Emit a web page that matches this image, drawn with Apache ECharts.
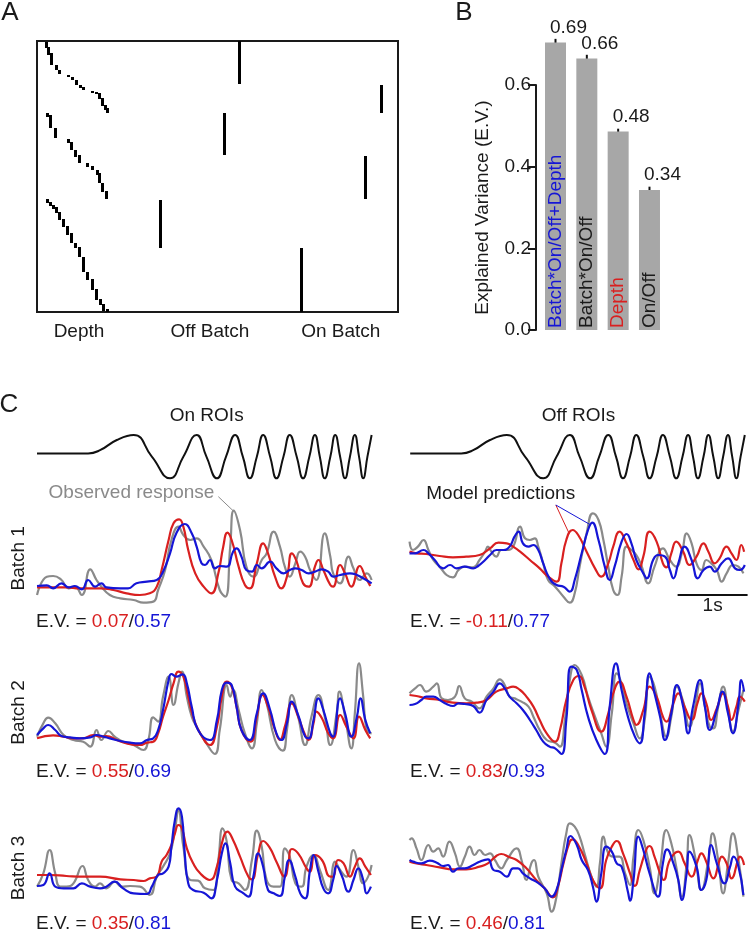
<!DOCTYPE html>
<html>
<head>
<meta charset="utf-8">
<script src="https://cdn.jsdelivr.net/npm/echarts@6/dist/echarts.min.js"></script>
<style>html,body{margin:0;padding:0;background:#fff}#c{width:748px;height:932px}</style>
</head>
<body>
<div id="c"></div>
<script>
// ---------------- DATA ----------------
// Panel A: design matrix blocks [featurePos, roiStart, roiEnd]
const depthBlocks = [
  [9,1,7],[11,6,14],[14,12,24],[19,24,29],[22,29,33],[31,34,36],[35,36,39],[39,39,44],[43,44,47],[46,46,49],[55,50,51.5],[59,51,53],[62,52,58],[65,57,65],[68,64,69],[70,67,72],
  [10,72,76],[13,74,87],[18,87,97],[31,98,102],[34,101,109],[38,109,116],[42,114,122],[50,122,126],[55,125,129],[60,129,134],[62,132,142],[65,142,151],[69,150,158],
  [10,158,162],[13,161,165],[16,164,168],[19,166,172],[22,171,179],[26,178,186],[30,185,194],[34,192,202],[38,202,207],[42,206,216],[46,216,231],[50,231,239],[55,238,249],[59,248,259],[63,258,264],[66,263,270],[70,268,271]
];
const offBatchBlocks = [[203,0,43],[188,72,114],[124,159,207]];
const onBatchBlocks = [[345,44,72],[329,115,158],[265,207,271]];
const matrixLabels = ['Depth', 'Off Batch', 'On Batch'];

// Panel B
const modelNames = ['Batch*On/Off+Depth', 'Batch*On/Off', 'Depth', 'On/Off'];
const evValues = [0.704, 0.665, 0.486, 0.343];
const evErrors = [0.009, 0.009, 0.007, 0.008];
const evLabels = ['0.69', '0.66', '0.48', '0.34'];
const evTicks = [0, 0.2, 0.4, 0.6];

// Panel C: stimulus (time s, intensity)
const stimT = [0.01,0.74,0.91,1.15,1.39,1.65,1.91,2.10,2.29,2.43,2.58,2.71,2.84,2.95,3.05,3.15,3.24,3.34,3.43,3.53,3.62,3.72,3.81,3.90,3.98,4.05,4.12,4.20,4.27,4.34,4.41,4.48,4.55,4.61,4.67,4.73,4.79];
const stimV = [0.15,0.15,0.30,0.77,1,0,-1,0,1,0,-1,0,1,0,-1,0,1,0,-1,0,1,0,-1,0,1,0,-1,0,1,0,-1,0,1,0,-1,0,1];

// Responses [time s, response]
const r1OnGrey = [[0.01,0.05],[0.15,0.60],[0.24,0.62],[0.36,0.50],[0.46,0.25],[0.55,0.30],[0.65,0.05],[0.77,0.82],[0.86,0.50],[0.93,0.30],[1.05,0.05],[1.20,-0.05],[1.39,-0.10],[1.53,-0.18],[1.67,-0.15],[1.74,0.20],[1.84,0.80],[1.93,1.70],[2.03,2.10],[2.10,1.85],[2.20,1.70],[2.29,1.75],[2.39,1.50],[2.50,1.10],[2.62,0.20],[2.70,0.00],[2.77,1.50],[2.82,2.58],[2.91,2.00],[3.00,0.90],[3.10,0.60],[3.22,1.10],[3.29,1.30],[3.39,1.95],[3.48,1.50],[3.55,0.90],[3.62,0.60],[3.70,1.00],[3.77,1.35],[3.84,1.20],[3.91,0.80],[4.00,0.50],[4.12,1.90],[4.20,1.20],[4.24,0.70],[4.34,0.40],[4.46,1.20],[4.53,0.85],[4.62,0.50],[4.72,0.70],[4.79,0.50]];
const r1OnRed = [[0.01,0.28],[0.43,0.28],[0.62,0.25],[0.91,0.25],[1.10,0.20],[1.29,0.10],[1.48,0.05],[1.62,0.10],[1.72,0.30],[1.79,0.80],[1.89,1.70],[1.96,2.20],[2.04,2.32],[2.10,2.10],[2.17,1.40],[2.27,0.70],[2.39,0.30],[2.50,0.10],[2.60,0.70],[2.67,1.50],[2.73,1.92],[2.79,1.70],[2.89,0.90],[2.98,0.35],[3.05,0.25],[3.15,1.00],[3.24,1.60],[3.31,1.30],[3.41,0.60],[3.50,0.25],[3.58,0.60],[3.65,1.30],[3.72,1.05],[3.81,0.40],[3.89,0.30],[3.98,0.90],[4.03,1.10],[4.10,0.80],[4.20,0.35],[4.24,0.30],[4.34,0.95],[4.41,0.70],[4.50,0.30],[4.62,0.92],[4.70,0.60],[4.77,0.32]];
const r1OnBlue = [[0.01,0.32],[0.15,0.34],[0.24,0.25],[0.36,0.40],[0.46,0.28],[0.55,0.32],[0.65,0.22],[0.74,0.50],[0.84,0.30],[0.93,0.40],[1.00,0.28],[1.20,0.25],[1.31,0.25],[1.43,0.40],[1.58,0.45],[1.72,0.50],[1.81,0.75],[1.91,1.30],[2.00,1.90],[2.12,2.18],[2.22,1.90],[2.29,1.50],[2.36,1.00],[2.41,0.95],[2.48,1.10],[2.55,0.85],[2.62,0.92],[2.72,0.90],[2.81,1.35],[2.86,1.45],[2.93,1.20],[3.00,0.80],[3.08,0.75],[3.15,0.95],[3.22,0.85],[3.34,1.05],[3.43,0.85],[3.53,0.70],[3.62,0.80],[3.70,0.85],[3.79,0.80],[3.89,0.70],[3.98,0.75],[4.08,0.82],[4.17,0.75],[4.24,0.60],[4.34,0.65],[4.48,0.70],[4.58,0.65],[4.67,0.55],[4.79,0.40]];

const r1OffGrey = [[0.00,1.65],[0.05,1.40],[0.12,1.50],[0.20,1.70],[0.27,1.40],[0.34,1.10],[0.43,0.90],[0.53,0.65],[0.62,0.58],[0.70,0.80],[0.79,0.90],[0.91,0.88],[1.00,1.10],[1.08,1.35],[1.12,1.50],[1.17,1.35],[1.24,1.20],[1.31,1.40],[1.39,1.40],[1.48,1.50],[1.58,2.10],[1.65,1.75],[1.72,1.70],[1.79,1.75],[1.84,1.50],[1.91,1.00],[1.98,0.50],[2.08,0.30],[2.20,0.00],[2.29,-0.18],[2.36,0.10],[2.43,0.90],[2.53,1.90],[2.62,2.50],[2.70,2.30],[2.77,1.70],[2.84,0.90],[2.91,0.20],[2.97,0.05],[3.03,0.60],[3.10,1.50],[3.17,1.40],[3.24,1.25],[3.31,0.95],[3.41,0.40],[3.50,0.90],[3.62,1.45],[3.72,1.10],[3.81,0.90],[3.89,1.30],[3.96,1.90],[4.03,1.60],[4.10,1.00],[4.17,0.80],[4.24,1.10],[4.31,1.00],[4.39,0.80],[4.46,0.45],[4.53,0.70],[4.62,0.95],[4.70,0.90],[4.77,0.70]];
const r1OffRed = [[0.00,1.35],[0.10,1.30],[0.24,1.28],[0.43,1.22],[0.62,1.18],[0.81,1.20],[1.00,1.25],[1.15,1.45],[1.27,1.62],[1.39,1.60],[1.48,1.50],[1.58,1.35],[1.72,1.10],[1.86,0.85],[1.98,0.60],[2.10,0.45],[2.17,1.00],[2.24,1.70],[2.33,2.00],[2.41,1.85],[2.53,1.35],[2.65,0.85],[2.74,0.60],[2.84,1.00],[2.91,1.50],[3.00,1.95],[3.10,1.60],[3.20,1.10],[3.27,0.82],[3.34,1.20],[3.43,1.95],[3.53,1.65],[3.62,1.00],[3.67,0.88],[3.74,1.30],[3.81,1.65],[3.91,1.35],[4.00,0.95],[4.10,1.20],[4.20,1.60],[4.27,1.35],[4.36,1.00],[4.43,1.15],[4.53,1.50],[4.60,1.30],[4.67,1.10],[4.74,1.55],[4.78,1.35]];
const r1OffBlue = [[0.00,1.30],[0.08,1.30],[0.20,1.40],[0.27,1.30],[0.36,1.10],[0.48,0.85],[0.58,0.95],[0.67,0.85],[0.79,0.90],[0.91,0.85],[0.98,0.92],[1.08,1.10],[1.15,1.25],[1.24,1.40],[1.34,1.40],[1.43,1.50],[1.50,1.80],[1.56,1.95],[1.62,1.60],[1.70,1.50],[1.77,1.55],[1.84,1.40],[1.91,1.00],[2.00,0.55],[2.10,0.35],[2.20,0.30],[2.29,0.15],[2.36,0.50],[2.46,1.30],[2.55,2.00],[2.61,2.22],[2.70,1.70],[2.79,0.90],[2.86,0.50],[2.93,0.90],[3.03,1.65],[3.10,1.88],[3.17,1.60],[3.24,1.10],[3.34,0.70],[3.39,0.55],[3.48,1.10],[3.55,1.25],[3.65,1.20],[3.72,0.80],[3.77,0.55],[3.84,1.00],[3.93,1.50],[4.03,1.10],[4.12,0.55],[4.20,0.80],[4.29,0.90],[4.36,0.75],[4.46,1.00],[4.55,1.15],[4.65,0.85],[4.72,0.80],[4.79,0.95]];

const r2OnGrey = [[0.01,0.30],[0.10,0.70],[0.17,0.87],[0.27,0.70],[0.39,0.35],[0.53,0.20],[0.67,0.15],[0.77,0.00],[0.86,0.50],[0.93,0.20],[1.03,0.47],[1.12,0.30],[1.24,0.15],[1.39,0.05],[1.53,-0.10],[1.60,0.20],[1.67,0.88],[1.74,0.75],[1.81,1.50],[1.89,2.10],[1.96,1.25],[2.03,1.90],[2.08,2.25],[2.15,1.50],[2.22,0.90],[2.29,0.60],[2.43,0.10],[2.55,-0.22],[2.62,0.50],[2.72,1.85],[2.77,1.50],[2.81,1.70],[2.89,1.10],[2.98,0.40],[3.08,-0.05],[3.15,0.70],[3.22,1.70],[3.29,1.30],[3.41,0.20],[3.52,-0.12],[3.58,0.50],[3.65,1.55],[3.74,0.90],[3.84,0.05],[3.93,0.90],[4.03,1.55],[4.12,0.90],[4.20,0.05],[4.29,1.00],[4.33,1.65],[4.41,0.90],[4.50,-0.05],[4.55,1.00],[4.61,2.50],[4.67,1.50],[4.72,0.50],[4.79,0.40]];
const r2OnRed = [[0.01,0.25],[0.24,0.34],[0.39,0.30],[0.53,0.25],[0.67,0.25],[0.81,0.35],[0.91,0.30],[1.00,0.32],[1.15,0.20],[1.29,0.10],[1.48,0.05],[1.58,0.12],[1.67,0.15],[1.74,0.40],[1.81,0.90],[1.89,1.40],[1.96,1.90],[2.03,2.25],[2.10,2.10],[2.17,1.50],[2.24,0.90],[2.34,0.40],[2.48,0.05],[2.58,0.60],[2.65,1.50],[2.72,1.95],[2.79,1.80],[2.86,1.20],[2.93,0.50],[3.06,0.15],[3.15,0.90],[3.23,1.55],[3.31,1.20],[3.41,0.50],[3.48,0.20],[3.55,0.60],[3.65,1.30],[3.74,0.90],[3.84,0.35],[3.89,0.20],[3.96,0.70],[4.00,1.05],[4.08,0.85],[4.17,0.40],[4.24,0.25],[4.34,0.95],[4.43,0.60],[4.53,0.25],[4.61,0.90],[4.70,0.50],[4.77,0.25]];
const r2OnBlue = [[0.01,0.35],[0.10,0.55],[0.17,0.65],[0.27,0.50],[0.36,0.32],[0.48,0.28],[0.62,0.25],[0.77,0.28],[0.86,0.35],[0.96,0.30],[1.05,0.25],[1.20,0.17],[1.34,0.12],[1.48,0.10],[1.58,0.20],[1.67,0.25],[1.74,0.50],[1.81,1.10],[1.89,2.00],[1.93,2.18],[2.00,2.10],[2.09,2.17],[2.15,1.90],[2.22,1.20],[2.31,0.50],[2.48,0.20],[2.58,0.80],[2.65,1.70],[2.72,1.92],[2.79,1.85],[2.86,1.20],[2.93,0.50],[3.05,0.20],[3.15,1.00],[3.24,1.60],[3.34,1.10],[3.43,0.40],[3.50,0.20],[3.58,0.70],[3.65,1.35],[3.74,0.95],[3.84,0.30],[3.89,0.25],[3.96,0.80],[4.03,1.45],[4.10,1.10],[4.20,0.40],[4.24,0.30],[4.34,1.45],[4.41,1.00],[4.50,0.30],[4.58,0.90],[4.63,1.45],[4.70,0.80],[4.77,0.40]];

const r2OffGrey = [[0.00,1.60],[0.08,1.75],[0.15,1.85],[0.24,1.65],[0.34,1.80],[0.39,1.90],[0.46,1.45],[0.55,1.40],[0.65,1.50],[0.71,1.82],[0.79,1.45],[0.89,1.35],[1.00,1.15],[1.10,1.50],[1.20,1.75],[1.29,2.02],[1.36,1.85],[1.43,1.50],[1.50,1.45],[1.60,1.35],[1.70,1.20],[1.77,0.90],[1.86,0.50],[1.96,0.20],[2.08,0.12],[2.15,0.00],[2.22,0.80],[2.29,2.00],[2.36,2.45],[2.46,2.15],[2.55,1.50],[2.65,0.90],[2.74,0.40],[2.81,0.00],[2.89,1.00],[2.96,2.20],[3.03,1.90],[3.10,1.30],[3.20,0.70],[3.29,0.25],[3.36,0.80],[3.43,2.10],[3.50,1.80],[3.58,1.00],[3.67,0.30],[3.74,0.90],[3.82,1.80],[3.91,1.35],[4.00,0.60],[4.08,1.20],[4.15,1.90],[4.22,1.20],[4.29,0.60],[4.34,0.55],[4.41,1.20],[4.48,1.80],[4.55,1.10],[4.62,0.45],[4.70,1.10],[4.77,1.70]];
const r2OffRed = [[0.00,1.55],[0.10,1.52],[0.24,1.45],[0.43,1.40],[0.62,1.32],[0.81,1.30],[0.96,1.32],[1.10,1.40],[1.24,1.65],[1.39,1.75],[1.48,1.80],[1.58,1.70],[1.67,1.50],[1.77,1.20],[1.86,0.80],[1.96,0.40],[2.08,0.15],[2.15,0.50],[2.24,1.40],[2.34,2.00],[2.42,2.12],[2.50,1.80],[2.60,1.10],[2.74,0.45],[2.84,1.00],[2.91,1.60],[3.00,1.95],[3.10,1.50],[3.20,0.80],[3.24,0.65],[3.34,1.10],[3.43,1.80],[3.53,1.50],[3.62,0.90],[3.67,0.75],[3.77,1.30],[3.84,1.60],[3.93,1.20],[4.03,0.80],[4.12,1.35],[4.17,1.60],[4.24,1.30],[4.31,0.80],[4.39,1.15],[4.48,1.60],[4.55,1.20],[4.60,0.80],[4.67,1.20],[4.72,1.50],[4.79,1.35]];
const r2OffBlue = [[0.00,1.25],[0.08,1.28],[0.17,1.40],[0.24,1.50],[0.34,1.50],[0.43,1.40],[0.53,1.28],[0.62,1.22],[0.70,1.30],[0.79,1.28],[0.91,1.22],[1.00,1.02],[1.10,1.40],[1.20,1.65],[1.29,1.90],[1.36,1.75],[1.43,1.50],[1.53,1.30],[1.62,1.10],[1.72,0.80],[1.81,0.50],[1.91,0.15],[2.00,0.00],[2.08,-0.05],[2.17,-0.22],[2.24,0.80],[2.31,2.40],[2.39,2.30],[2.46,1.70],[2.55,0.90],[2.67,0.20],[2.79,-0.22],[2.86,1.20],[2.95,2.50],[3.03,1.70],[3.12,0.90],[3.22,0.30],[3.29,0.10],[3.36,1.00],[3.43,2.20],[3.50,1.60],[3.58,0.90],[3.65,0.20],[3.74,1.00],[3.82,1.85],[3.91,1.20],[3.98,0.40],[4.05,1.20],[4.15,2.00],[4.22,1.20],[4.29,0.50],[4.39,1.10],[4.47,1.65],[4.55,1.00],[4.62,0.40],[4.70,1.30],[4.74,2.00],[4.78,1.65]];

const r3OnGrey = [[0.01,0.30],[0.10,0.70],[0.19,1.40],[0.27,0.70],[0.34,0.30],[0.43,0.30],[0.53,0.40],[0.66,0.92],[0.74,0.50],[0.84,0.30],[0.91,0.40],[1.00,0.25],[1.12,0.45],[1.22,0.30],[1.34,0.32],[1.48,0.30],[1.62,0.05],[1.72,0.60],[1.81,0.90],[1.91,1.30],[1.98,2.00],[2.03,2.60],[2.10,1.50],[2.20,0.50],[2.31,0.48],[2.41,0.25],[2.53,0.20],[2.60,1.10],[2.66,2.05],[2.72,1.65],[2.79,0.50],[2.89,0.40],[2.98,0.20],[3.08,1.10],[3.15,1.98],[3.22,1.50],[3.29,0.50],[3.39,0.30],[3.48,0.30],[3.55,1.45],[3.62,1.20],[3.70,0.40],[3.79,0.30],[3.86,0.90],[3.96,1.25],[4.05,0.80],[4.17,0.20],[4.27,1.05],[4.34,0.80],[4.43,0.60],[4.53,1.40],[4.60,0.90],[4.67,0.40],[4.74,0.60],[4.79,0.95]];
const r3OnRed = [[0.01,0.65],[0.20,0.65],[0.43,0.62],[0.67,0.60],[0.91,0.60],[1.20,0.52],[1.39,0.50],[1.53,0.47],[1.62,0.55],[1.72,0.60],[1.79,1.05],[1.86,1.25],[1.93,1.55],[1.98,1.90],[2.03,2.15],[2.08,2.05],[2.15,1.45],[2.24,1.00],[2.34,0.70],[2.48,0.50],[2.58,0.90],[2.65,1.60],[2.73,1.95],[2.81,1.70],[2.91,1.20],[3.03,0.60],[3.08,0.52],[3.17,1.30],[3.24,1.67],[3.34,1.45],[3.43,1.05],[3.55,0.60],[3.60,1.00],[3.65,1.43],[3.74,1.30],[3.86,0.85],[3.91,0.75],[3.98,1.25],[4.08,1.10],[4.20,0.60],[4.24,0.60],[4.31,1.10],[4.39,1.00],[4.48,0.60],[4.55,0.90],[4.62,1.15],[4.70,0.90],[4.78,0.65]];
const r3OnBlue = [[0.01,0.32],[0.10,0.35],[0.19,0.70],[0.27,0.30],[0.39,0.25],[0.53,0.25],[0.65,0.40],[0.77,0.30],[0.91,0.25],[1.00,0.30],[1.12,0.45],[1.24,0.25],[1.39,0.10],[1.58,0.08],[1.65,0.30],[1.74,0.65],[1.81,0.70],[1.89,0.90],[1.93,1.50],[1.98,2.30],[2.03,2.65],[2.08,2.40],[2.12,1.30],[2.17,0.40],[2.24,0.20],[2.39,0.12],[2.50,-0.05],[2.58,0.50],[2.65,1.30],[2.70,1.60],[2.77,1.00],[2.84,0.30],[2.96,0.10],[3.03,0.00],[3.10,0.60],[3.17,1.30],[3.24,0.90],[3.31,0.20],[3.39,0.10],[3.48,0.02],[3.55,0.60],[3.61,1.10],[3.70,0.60],[3.77,0.10],[3.84,-0.05],[3.91,0.80],[3.96,1.25],[4.03,0.75],[4.10,0.25],[4.17,0.10],[4.24,0.50],[4.29,0.92],[4.36,0.65],[4.46,0.15],[4.53,0.50],[4.60,0.85],[4.67,0.50],[4.72,0.10],[4.78,0.30]];

const r3OffGrey = [[0.00,1.70],[0.03,1.75],[0.10,1.45],[0.17,1.10],[0.27,1.55],[0.34,1.35],[0.41,1.45],[0.48,1.20],[0.57,1.65],[0.65,1.30],[0.72,0.90],[0.79,1.20],[0.86,1.50],[0.93,1.25],[1.00,1.40],[1.08,1.25],[1.15,1.30],[1.22,1.10],[1.31,0.85],[1.39,1.10],[1.53,1.45],[1.60,1.10],[1.67,0.50],[1.74,1.00],[1.78,1.10],[1.84,0.60],[1.96,0.10],[2.03,-0.45],[2.10,0.00],[2.17,1.00],[2.24,1.90],[2.29,2.20],[2.36,2.10],[2.43,1.80],[2.50,1.30],[2.60,0.60],[2.67,0.30],[2.72,1.00],[2.77,1.80],[2.84,1.30],[2.91,1.20],[3.00,1.20],[3.08,0.70],[3.15,0.35],[3.20,1.20],[3.27,2.00],[3.34,1.70],[3.43,0.90],[3.50,0.10],[3.58,0.90],[3.67,2.00],[3.74,1.60],[3.81,0.90],[3.89,0.00],[3.96,1.00],[4.00,1.85],[4.08,1.20],[4.17,0.20],[4.27,1.10],[4.33,1.90],[4.41,1.10],[4.48,0.10],[4.55,1.00],[4.62,1.90],[4.70,1.10],[4.77,0.00]];
const r3OffRed = [[0.00,1.05],[0.10,1.00],[0.24,0.95],[0.43,0.88],[0.62,0.82],[0.81,0.82],[1.00,0.90],[1.12,1.00],[1.24,1.22],[1.31,1.28],[1.43,1.18],[1.53,1.10],[1.67,0.85],[1.81,0.50],[1.93,0.25],[2.05,-0.02],[2.12,0.30],[2.20,1.00],[2.29,1.65],[2.33,1.72],[2.41,1.55],[2.53,1.00],[2.62,0.50],[2.72,0.25],[2.81,1.10],[2.89,1.50],[2.96,1.67],[3.05,1.30],[3.15,0.70],[3.22,0.32],[3.29,0.80],[3.39,1.45],[3.43,1.52],[3.50,1.20],[3.58,0.70],[3.63,0.50],[3.72,1.10],[3.84,1.35],[3.93,1.00],[4.03,0.60],[4.12,1.10],[4.17,1.30],[4.24,1.05],[4.34,0.55],[4.43,1.10],[4.46,1.20],[4.53,1.00],[4.60,0.55],[4.70,1.15],[4.72,1.20],[4.78,0.95]];
const r3OffBlue = [[0.00,1.10],[0.05,1.05],[0.17,1.00],[0.29,1.08],[0.39,1.02],[0.48,0.92],[0.55,0.95],[0.62,0.75],[0.70,0.85],[0.79,0.85],[0.91,0.95],[1.00,1.05],[1.12,1.12],[1.20,0.80],[1.29,0.75],[1.39,0.60],[1.48,0.85],[1.55,0.85],[1.62,0.70],[1.72,0.55],[1.81,0.45],[1.93,0.25],[2.03,0.00],[2.10,0.20],[2.17,0.80],[2.24,1.40],[2.30,1.82],[2.39,1.55],[2.46,1.10],[2.55,0.80],[2.62,0.30],[2.67,-0.15],[2.74,0.70],[2.81,1.50],[2.89,1.35],[2.96,1.00],[3.03,0.90],[3.12,0.15],[3.15,-0.12],[3.20,0.50],[3.27,1.80],[3.34,1.40],[3.43,0.70],[3.55,0.00],[3.62,1.00],[3.68,1.42],[3.77,1.00],[3.84,0.50],[3.89,-0.10],[3.96,0.70],[4.00,1.35],[4.10,0.90],[4.17,0.20],[4.24,0.50],[4.31,1.55],[4.39,1.00],[4.50,0.40],[4.58,0.90],[4.63,1.20],[4.70,0.90],[4.77,0.05]];

const panelTitles = ['On ROIs', 'Off ROIs'];
const rowLabels = ['Batch 1', 'Batch 2', 'Batch 3'];
// explained variance per panel: [depth model, full model]; order R1On,R1Off,R2On,R2Off,R3On,R3Off
const evPairs = [['0.07','0.57'],['-0.11','0.77'],['0.55','0.69'],['0.83','0.93'],['0.35','0.81'],['0.46','0.81']];
// annotation anchor points (time s, response)
const obsPointer = [[2.60,3.00],[2.81,2.58]];
const predPointerRed = [[2.09,2.75],[2.28,1.90]];
const predPointerBlue = [[2.09,2.75],[2.59,2.15]];
const scaleBar = [[3.83, 4.83, 0.05]];
const scaleLabel = '1s';

// ---------------- STYLE / LAYOUT ----------------
const FONT = '"Liberation Sans", Arial, Helvetica, sans-serif';
const INK = '#1a1a1a', GREY = '#8a8a8a', RED = '#d92020', BLUE = '#1515d6', BAR = '#a7a7a7';
const FS = 19;
const nameColors = [BLUE, INK, RED, INK];
const TMAX = 4.83, PXS = 70;
const colLeft = [36.33, 409.5];
const rowTop = [483.33, 633.33, 783.33];

const chart = echarts.init(document.getElementById('c'), null, {renderer: 'canvas'});

const grids = [], xAxes = [], yAxes = [], series = [];
function addGrid(g, x, y) {
  g.outerBoundsMode = 'none'; g.containLabel = false;
  grids.push(g);
  const i = grids.length - 1;
  xAxes.push(Object.assign({gridIndex: i, type: 'value', show: false, splitLine: {show: false}}, x));
  yAxes.push(Object.assign({gridIndex: i, type: 'value', show: false, splitLine: {show: false}}, y));
  return i;
}

// Panel A grid (0)
const gA = addGrid({left: 37, top: 41, width: 361, height: 271, show: true, borderColor: INK, borderWidth: 2, backgroundColor: '#fff'},
  {min: 0, max: 361}, {min: 0, max: 271, inverse: true});
function blockSeries(data, w) {
  return {type: 'custom', xAxisIndex: gA, yAxisIndex: gA, data, silent: true, animation: false, clip: false,
    encode: {x: 0, y: [1, 2]},
    renderItem: (p, api) => {
      const a = api.coord([api.value(0) - w / 2, api.value(1)]);
      const b = api.coord([api.value(0) + w / 2, api.value(2)]);
      const x0 = Math.round(Math.min(a[0], b[0]));
      const wd = Math.max(2, Math.round(Math.abs(b[0] - a[0])));
      const y0 = Math.round(Math.min(a[1], b[1]));
      const ht = Math.max(2, Math.round(Math.abs(b[1] - a[1])));
      return {type: 'rect', shape: {x: x0, y: y0, width: wd, height: ht}, style: {fill: '#000'}};
    }};
}
series.push(blockSeries(depthBlocks, 2.6), blockSeries(offBatchBlocks, 3.2), blockSeries(onBatchBlocks, 3.2));

// Panel B bars grid (1)
const Y0 = 330, PXU = 408.33, BX0 = 555.5, BSP = 31.33, AXL = 536;
const xMinB = (AXL - BX0) / BSP, xMaxB = 4;
const gB = addGrid({left: AXL, top: Y0 - 0.75 * PXU, width: (xMaxB - xMinB) * BSP, height: 0.75 * PXU},
  {min: xMinB, max: xMaxB}, {min: 0, max: 0.75});
// Panel B visible axis grid (2)
const gBa = addGrid({left: AXL, top: Y0 - 0.6 * PXU, width: (xMaxB - xMinB) * BSP, height: 0.6 * PXU},
  {min: 0, max: 1}, {
    show: true, min: 0, max: 0.6, interval: 0.2,
    axisLine: {show: true, lineStyle: {color: INK, width: 2}},
    axisTick: {show: true, length: 8, lineStyle: {color: INK, width: 2}},
    axisLabel: {color: INK, fontSize: FS, fontFamily: FONT, margin: 5, formatter: v => v.toFixed(1)},
    name: 'Explained Variance (E.V.)', nameLocation: 'middle', nameGap: 44,
    nameTextStyle: {color: INK, fontSize: FS, fontFamily: FONT}
  });
series.push({
  type: 'bar', xAxisIndex: gB, yAxisIndex: gB, barWidth: 21, animation: false, silent: true,
  itemStyle: {color: BAR},
  data: evValues.map((v, i) => ({value: [i, v], label: {color: nameColors[i]}})),
  label: {show: true, position: 'insideBottom', rotate: 90, align: 'left', verticalAlign: 'middle', distance: 2,
    fontSize: FS, fontFamily: FONT, textBorderWidth: 0, formatter: p => modelNames[p.dataIndex]}
});
series.push({
  type: 'custom', xAxisIndex: gB, yAxisIndex: gB, animation: false, silent: true, clip: false,
  data: evValues.map((v, i) => [i, v, evErrors[i]]),
  renderItem: (p, api) => {
    const i = api.value(0), v = api.value(1), e = api.value(2);
    const t = api.coord([i, v + e]), b = api.coord([i, v - e]), m = api.coord([i, v]);
    return {type: 'group', children: [
      {type: 'line', shape: {x1: t[0], y1: t[1], x2: b[0], y2: b[1]}, style: {stroke: '#111', lineWidth: 2}},
      {type: 'text', x: m[0] + 13, y: m[1] - 15, style: {text: evLabels[p.dataIndex], fill: INK, fontSize: FS, fontFamily: FONT, align: 'center', verticalAlign: 'middle'}}
    ]};
  }
});

// Panel C stimulus grids
const stimData = stimT.map((t, i) => [t, stimV[i]]);
colLeft.forEach(left => {
  const g = addGrid({left, top: 430.67, width: TMAX * PXS, height: 52}, {min: 0, max: TMAX}, {min: -1.2, max: 1.2});
  series.push({type: 'line', xAxisIndex: g, yAxisIndex: g, data: stimData, smooth: 0.5, symbol: 'none', silent: true, animation: false,
    lineStyle: {color: '#111', width: 2}});
});

// Panel C response grids
const traceSets = [
  [r1OnGrey, r1OnRed, r1OnBlue], [r1OffGrey, r1OffRed, r1OffBlue],
  [r2OnGrey, r2OnRed, r2OnBlue], [r2OffGrey, r2OffRed, r2OffBlue],
  [r3OnGrey, r3OnRed, r3OnBlue], [r3OffGrey, r3OffRed, r3OffBlue]
];
const traceGrid = [];
traceSets.forEach((set, k) => {
  const row = Math.floor(k / 2), col = k % 2;
  const g = addGrid({left: colLeft[col], top: rowTop[row], width: TMAX * PXS, height: 140}, {min: 0, max: TMAX}, {min: -0.8, max: 3.4});
  traceGrid.push(g);
  [GREY, RED, BLUE].forEach((c, j) => series.push({
    type: 'line', xAxisIndex: g, yAxisIndex: g, data: set[j], smooth: 0.5, symbol: 'none', silent: true, animation: false,
    lineStyle: {color: c, width: 2.2}
  }));
});
function pointer(g, data, color) {
  return {type: 'line', xAxisIndex: g, yAxisIndex: g, data, symbol: 'none', silent: true, animation: false, clip: false, lineStyle: {color, width: 1}};
}
series.push(pointer(traceGrid[0], obsPointer, GREY));
series.push(pointer(traceGrid[1], predPointerRed, RED));
series.push(pointer(traceGrid[1], predPointerBlue, BLUE));
series.push({
  type: 'custom', xAxisIndex: traceGrid[1], yAxisIndex: traceGrid[1], data: scaleBar, silent: true, animation: false, clip: false,
  renderItem: (p, api) => {
    const a = api.coord([api.value(0), api.value(2)]), b = api.coord([api.value(1), api.value(2)]);
    return {type: 'group', children: [
      {type: 'line', shape: {x1: a[0], y1: a[1], x2: b[0], y2: b[1]}, style: {stroke: '#111', lineWidth: 2}},
      {type: 'text', x: (a[0] + b[0]) / 2, y: a[1] + 11, style: {text: scaleLabel, fill: INK, fontSize: FS, fontFamily: FONT, align: 'center', verticalAlign: 'middle'}}
    ]};
  }
});

// ---------------- TEXT ----------------
function txt(x, y, text, o = {}) {
  return {type: 'text', x, y, rotation: o.rot || 0, silent: true, z: 100,
    style: {text, fill: o.color || INK, fontSize: o.size || FS, fontFamily: FONT, align: o.align || 'center', verticalAlign: 'middle', rich: o.rich}};
}
const graphic = [
  txt(10, 13, 'A', {size: 26}), txt(464, 13, 'B', {size: 26}), txt(9, 405, 'C', {size: 26}),
  txt(79, 331.7, matrixLabels[0]), txt(210, 331.7, matrixLabels[1]), txt(340.8, 331.7, matrixLabels[2]),
  txt(206.7, 415.7, panelTitles[0]), txt(578.5, 415.7, panelTitles[1]),
  txt(18.3, 558.3, rowLabels[0], {rot: Math.PI / 2}), txt(18.3, 712.5, rowLabels[1], {rot: Math.PI / 2}), txt(18.3, 868, rowLabels[2], {rot: Math.PI / 2}),
  txt(131.5, 493, 'Observed response', {color: GREY}), txt(500.7, 493.3, 'Model predictions')
];
const evY = [621.7, 771.7, 923.3];
const evX = [36, 410];
const rich = {k: {fill: INK, fontSize: FS, fontFamily: FONT}, r: {fill: RED, fontSize: FS, fontFamily: FONT}, b: {fill: BLUE, fontSize: FS, fontFamily: FONT}};
evPairs.forEach((pr, k) => {
  graphic.push(txt(evX[k % 2], evY[Math.floor(k / 2)], `{k|E.V. = }{r|${pr[0]}}{k|/}{b|${pr[1]}}`, {align: 'left', rich}));
});

chart.setOption({
  animation: false,
  backgroundColor: '#fff',
  textStyle: {fontFamily: FONT},
  grid: grids, xAxis: xAxes, yAxis: yAxes, series, graphic
});
</script>
</body>
</html>
